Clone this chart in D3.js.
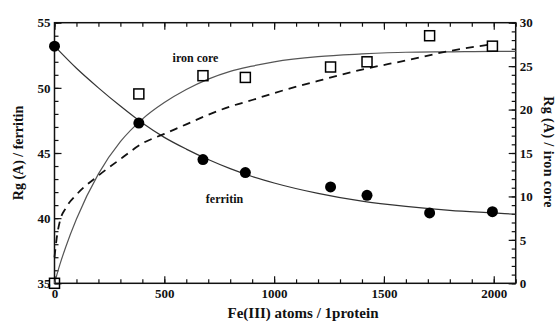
<!DOCTYPE html>
<html>
<head>
<meta charset="utf-8">
<script src="https://cdn.jsdelivr.net/npm/d3@7"></script>
<style>
  body { margin: 0; background: #fff; }
  svg text { font-family: "Liberation Serif", "Times New Roman", serif; font-weight: bold; fill: #111; }
</style>
</head>
<body>
<div id="chart"></div>
<script>
// measured points
const feAtoms = [0, 384, 676, 869, 1257, 1423, 1708, 1994];
const rgFerritin = [53.2, 47.3, 44.5, 43.5, 42.4, 41.75, 40.4, 40.5];
const rgCore = [0, 21.8, 23.9, 23.7, 24.9, 25.5, 28.5, 27.3];

// fitted curves
const fitFerritinX = [0, 100, 200, 300, 400, 500, 600, 700, 800, 900, 1000, 1200, 1400, 1600, 1800, 2000, 2100];
const fitFerritinY = [53.2, 51.5, 50.0, 48.6, 47.3, 46.2, 45.3, 44.5, 43.8, 43.2, 42.7, 41.9, 41.3, 40.9, 40.6, 40.4, 40.3];

const fitCoreX = [0, 25, 50, 100, 200, 300, 400, 500, 600, 700, 800, 900, 1000, 1200, 1400, 1600, 1800, 2000, 2100];
const fitCoreY = [0, 2.2, 4.1, 7.4, 12.6, 16.3, 18.9, 20.8, 22.3, 23.5, 24.4, 25.0, 25.5, 26.1, 26.4, 26.6, 26.65, 26.7, 26.7];

const dashX = [0, 10, 25, 50, 100, 200, 300, 400, 500, 600, 700, 800, 900, 1000, 1200, 1400, 1600, 1800, 1990];
const dashY = [3.0, 5.2, 7.2, 8.6, 10.2, 12.4, 14.3, 16.1, 17.2, 18.3, 19.4, 20.35, 21.1, 21.9, 23.3, 24.6, 25.65, 26.75, 27.5];

const margin = {top: 22.7, right: 42.3, bottom: 40.7, left: 54.5};
const W = 558, H = 324;
const width = W - margin.left - margin.right;
const height = H - margin.top - margin.bottom;

const svg = d3.select("#chart")
              .append("svg")
              .attr("width", W)
              .attr("height", H)
              .append("g")
              .attr("transform", "translate(" + margin.left + "," + margin.top + ")");

const x = d3.scaleLinear().domain([0, 2100]).range([0, width]);
const yL = d3.scaleLinear().domain([35, 55]).range([height, 0]);
const yR = d3.scaleLinear().domain([0, 30]).range([height, 0]);

function styleAxis(g) {
    g.select(".domain").remove();
    g.selectAll("line").attr("stroke", "#111").attr("stroke-width", 1.2);
    g.selectAll("text").style("font-size", "13px");
}

// bottom
svg.append("g").attr("transform", "translate(0," + height + ")")
   .call(d3.axisBottom(x).tickValues(d3.range(0, 2101, 100)).tickSize(-4).tickFormat(""))
   .call(styleAxis);
svg.append("g").attr("transform", "translate(0," + height + ")")
   .call(d3.axisBottom(x).tickValues([0, 500, 1000, 1500, 2000]).tickSize(-7).tickPadding(5).tickFormat(d3.format("d")))
   .call(styleAxis);
// top
svg.append("g")
   .call(d3.axisTop(x).tickValues(d3.range(0, 2101, 100)).tickSize(-4).tickFormat(""))
   .call(styleAxis);
svg.append("g")
   .call(d3.axisTop(x).tickValues([0, 500, 1000, 1500, 2000]).tickSize(-7).tickFormat(""))
   .call(styleAxis);
// left
svg.append("g")
   .call(d3.axisLeft(yL).tickValues(d3.range(35, 56, 1)).tickSize(-4).tickFormat(""))
   .call(styleAxis);
svg.append("g")
   .call(d3.axisLeft(yL).tickValues([35, 40, 45, 50, 55]).tickSize(-7).tickPadding(4))
   .call(styleAxis);
// right
svg.append("g").attr("transform", "translate(" + width + ",0)")
   .call(d3.axisRight(yR).tickValues(d3.range(0, 31, 1)).tickSize(-4).tickFormat(""))
   .call(styleAxis);
svg.append("g").attr("transform", "translate(" + width + ",0)")
   .call(d3.axisRight(yR).tickValues([0, 5, 10, 15, 20, 25, 30]).tickSize(-7).tickPadding(4))
   .call(styleAxis);

svg.append("rect")
   .attr("width", width)
   .attr("height", height)
   .attr("fill", "none")
   .attr("stroke", "#111")
   .attr("stroke-width", 1.5);

// curves
const lineL = d3.line().x(d => x(d[0])).y(d => yL(d[1])).curve(d3.curveMonotoneX);
const lineR = d3.line().x(d => x(d[0])).y(d => yR(d[1])).curve(d3.curveMonotoneX);

svg.append("path")
   .datum(d3.zip(fitFerritinX, fitFerritinY))
   .attr("d", lineL)
   .attr("fill", "none")
   .attr("stroke", "#333")
   .attr("stroke-width", 1.2);

svg.append("path")
   .datum(d3.zip(fitCoreX, fitCoreY))
   .attr("d", lineR)
   .attr("fill", "none")
   .attr("stroke", "#555")
   .attr("stroke-width", 1.2);

svg.append("path")
   .datum(d3.zip(dashX, dashY))
   .attr("d", lineR)
   .attr("fill", "none")
   .attr("stroke", "#111")
   .attr("stroke-width", 1.8)
   .attr("stroke-dasharray", "8,6");

// markers
svg.selectAll("circle.fer")
   .data(d3.zip(feAtoms, rgFerritin))
   .enter()
   .append("circle")
   .attr("class", "fer")
   .attr("cx", d => x(d[0]))
   .attr("cy", d => yL(d[1]))
   .attr("r", 5.5)
   .attr("fill", "#000");

svg.selectAll("rect.core")
   .data(d3.zip(feAtoms, rgCore))
   .enter()
   .append("rect")
   .attr("class", "core")
   .attr("x", d => x(d[0]) - 5)
   .attr("y", d => yR(d[1]) - 5)
   .attr("width", 10)
   .attr("height", 10)
   .attr("fill", "none")
   .attr("stroke", "#000")
   .attr("stroke-width", 1.5);

// labels
svg.append("text")
   .attr("x", 195.5 - margin.left)
   .attr("y", 61.7 - margin.top)
   .attr("text-anchor", "middle")
   .style("font-size", "12px")
   .text("iron core");

svg.append("text")
   .attr("x", 224.5 - margin.left)
   .attr("y", 202.7 - margin.top)
   .attr("text-anchor", "middle")
   .style("font-size", "12px")
   .text("ferritin");

svg.append("text")
   .attr("x", 303 - margin.left)
   .attr("y", 318.5 - margin.top)
   .attr("text-anchor", "middle")
   .style("font-size", "15px")
   .text("Fe(III) atoms / 1protein");

svg.append("text")
   .attr("transform", "translate(" + (23 - margin.left) + "," + (153 - margin.top) + ") rotate(-90)")
   .attr("text-anchor", "middle")
   .style("font-size", "14px")
   .text("Rg (A) / ferritin");

svg.append("text")
   .attr("transform", "translate(" + (544 - margin.left) + "," + (152 - margin.top) + ") rotate(90)")
   .attr("text-anchor", "middle")
   .style("font-size", "14px")
   .style("letter-spacing", "0.4px")
   .text("Rg (A) / iron core");
</script>
</body>
</html>
